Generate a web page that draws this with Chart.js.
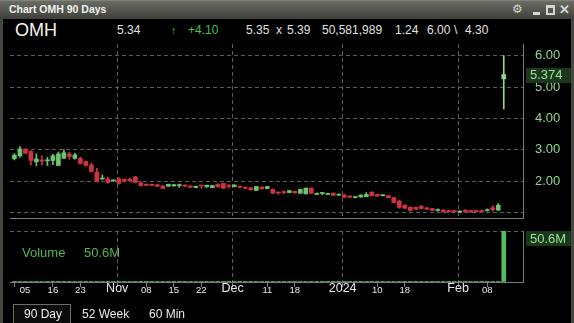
<!DOCTYPE html>
<html>
<head>
<meta charset="utf-8">
<script src="https://cdn.jsdelivr.net/npm/chart.js@4.4.1/dist/chart.umd.min.js"></script>
<style>
  html, body { margin: 0; padding: 0; background: #000; }
  #win { position: relative; width: 574px; height: 323px; background: #45483f; overflow: hidden;
         font-family: "Liberation Sans", Arial, sans-serif; }
  #inner { position: absolute; left: 3px; top: 19px; width: 568px; height: 304px; background: #000; }
  #title { position: absolute; left: 0; top: 0; width: 574px; height: 19px;
           background: linear-gradient(#6a6d64, #3d3f39); border-top: 1px solid #80837a; box-sizing: border-box; }
  #title span.t { position: absolute; left: 9px; top: 2px; font-size: 10.5px; font-weight: bold; color: #f2f2f2; }
  .ico { position: absolute; color: #d6d6d6; }
  .h { position: absolute; font-size: 12px; line-height: 15px; top: 23px; color: #e2e2e2; white-space: nowrap; }
  canvas { position: absolute; left: 0; }
  .tab { position: absolute; top: 307px; font-size: 12px; line-height: 14px; color: #ececec; }
</style>
</head>
<body>
<div id="win">
  <div id="inner"></div>
  <div id="title">
    <span class="t">Chart OMH 90 Days</span>
    <span class="ico" style="left:512px;top:1px;font-size:12px;">⚙</span>
    <span class="ico" style="left:533px;top:11px;width:7px;height:3px;background:#d6d6d6;"></span>
    <span class="ico" style="left:546px;top:4px;width:5px;height:5px;border:2px solid #d6d6d6;border-top-width:3px;"></span>
    <span class="ico" style="left:559px;top:1px;font-size:13px;font-weight:bold;">✕</span>
  </div>

  <div class="h" style="left:15px;top:19px;font-size:18px;line-height:22px;color:#f4f4f4;">OMH</div>
  <div class="h" style="left:117px;">5.34</div>
  <div class="h" style="left:171px;color:#4fbf4f;font-size:11px;">↑</div>
  <div class="h" style="left:188px;color:#4fbf4f;">+4.10</div>
  <div class="h" style="left:246px;">5.35</div>
  <div class="h" style="left:276px;">x</div>
  <div class="h" style="left:287px;">5.39</div>
  <div class="h" style="left:322px;">50,581,989</div>
  <div class="h" style="left:395px;">1.24</div>
  <div class="h" style="left:427px;">6.00</div>
  <div class="h" style="left:454px;">\</div>
  <div class="h" style="left:465px;">4.30</div>

  <canvas id="priceChart" width="574" height="178" style="top:42px;"></canvas>
  <canvas id="volChart" width="574" height="82" style="top:224px;"></canvas>

  <div class="h" style="left:22px;top:245px;font-size:13px;color:#55b455;">Volume</div>
  <div class="h" style="left:84px;top:245px;font-size:13px;color:#55b455;">50.6M</div>

  <div style="position:absolute;left:13px;top:304px;width:56px;height:22px;border:1px solid #6b6b6b;background:#0c0c0c;"></div>
  <div class="tab" style="left:24px;">90 Day</div>
  <div class="tab" style="left:82px;">52 Week</div>
  <div class="tab" style="left:149px;">60 Min</div>
</div>

<script>
// 日线数据：2023-10-05 ~ 2024-02-13，共 90 个交易日
const opens = [
    2.72, 2.81, 3.02, 2.95, 2.62, 2.68, 2.65, 2.66, 2.50, 2.73,
    2.87, 2.73, 2.73, 2.63, 2.52, 2.29, 2.07, 2.07, 2.01,
    2.08, 2.06, 2.07, 2.14, 1.95, 1.90, 1.90, 1.89, 1.85, 1.84,
    1.85, 1.86, 1.88, 1.85, 1.80, 1.86, 1.82, 1.80, 1.90, 1.93, 1.88,
    1.83, 1.84, 1.81, 1.79, 1.71, 1.81, 1.77, 1.74, 1.64, 1.66,
    1.64, 1.68, 1.62, 1.60, 1.78, 1.58, 1.61, 1.58, 1.62, 1.56,
    1.56, 1.53, 1.48, 1.50, 1.51, 1.65, 1.58, 1.54, 1.54, 1.48,
    1.37, 1.24, 1.17, 1.17, 1.21, 1.15, 1.13, 1.07, 1.08, 1.07, 1.05,
    1.02, 1.08, 1.07, 1.07, 1.06, 1.06, 1.16, 1.08, 5.26
];
const highs = [
    2.88, 3.10, 3.04, 2.97, 2.87, 2.81, 2.76, 2.86, 2.93, 3.00,
    2.93, 2.89, 2.77, 2.65, 2.57, 2.41, 2.20, 2.13, 2.04,
    2.12, 2.08, 2.10, 2.16, 1.99, 1.92, 1.91, 1.90, 1.86, 1.91,
    1.90, 1.91, 1.89, 1.86, 1.85, 1.86, 1.88, 1.87, 1.92, 1.94, 1.89,
    1.89, 1.85, 1.82, 1.80, 1.84, 1.83, 1.84, 1.76, 1.65, 1.69,
    1.71, 1.69, 1.75, 1.79, 1.79, 1.63, 1.65, 1.62, 1.63, 1.59,
    1.58, 1.54, 1.52, 1.57, 1.64, 1.67, 1.59, 1.57, 1.55, 1.49,
    1.40, 1.25, 1.19, 1.18, 1.22, 1.17, 1.14, 1.12, 1.10, 1.08, 1.08,
    1.06, 1.10, 1.08, 1.08, 1.08, 1.12, 1.22, 1.29, 6.00
];
const lows = [
    2.68, 2.77, 2.88, 2.52, 2.50, 2.52, 2.50, 2.53, 2.50, 2.73,
    2.70, 2.70, 2.55, 2.48, 2.29, 1.97, 2.06, 1.94, 1.99,
    1.91, 2.00, 2.01, 1.95, 1.84, 1.86, 1.86, 1.83, 1.76, 1.83,
    1.84, 1.80, 1.83, 1.80, 1.79, 1.79, 1.81, 1.79, 1.81, 1.77, 1.79,
    1.82, 1.79, 1.76, 1.71, 1.70, 1.75, 1.76, 1.61, 1.58, 1.60,
    1.63, 1.62, 1.61, 1.59, 1.61, 1.57, 1.57, 1.57, 1.54, 1.54,
    1.48, 1.48, 1.47, 1.49, 1.50, 1.53, 1.52, 1.53, 1.47, 1.31,
    1.14, 1.13, 1.05, 1.10, 1.12, 1.10, 1.06, 1.05, 1.01, 1.02, 1.01,
    1.00, 1.01, 1.01, 1.02, 1.02, 1.05, 1.05, 1.07, 4.30
];
const closes = [
    2.83, 3.03, 2.89, 2.66, 2.71, 2.64, 2.68, 2.81, 2.87, 2.91,
    2.79, 2.84, 2.57, 2.50, 2.31, 1.99, 2.08, 1.96, 2.03,
    1.93, 2.01, 2.02, 1.96, 1.86, 1.87, 1.87, 1.84, 1.77, 1.90,
    1.89, 1.87, 1.84, 1.81, 1.84, 1.85, 1.87, 1.86, 1.82, 1.78, 1.84,
    1.88, 1.81, 1.78, 1.73, 1.83, 1.76, 1.83, 1.62, 1.63, 1.64,
    1.70, 1.63, 1.74, 1.78, 1.62, 1.59, 1.62, 1.59, 1.55, 1.57,
    1.49, 1.49, 1.49, 1.56, 1.58, 1.54, 1.53, 1.56, 1.48, 1.32,
    1.17, 1.14, 1.07, 1.11, 1.13, 1.11, 1.07, 1.09, 1.03, 1.03, 1.03,
    1.03, 1.03, 1.02, 1.03, 1.04, 1.08, 1.09, 1.24, 5.40
];
const volumes = [
    85000, 160000, 120000, 140000, 90000, 60000, 55000, 70000, 110000, 95000,
    60000, 50000, 75000, 65000, 130000, 210000, 90000, 70000, 40000,
    80000, 45000, 40000, 95000, 85000, 40000, 35000, 45000, 70000, 55000,
    40000, 45000, 35000, 40000, 30000, 35000, 40000, 30000, 60000, 75000, 50000,
    45000, 40000, 35000, 55000, 60000, 40000, 45000, 80000, 50000, 45000,
    40000, 35000, 55000, 70000, 60000, 35000, 30000, 30000, 45000, 40000,
    50000, 35000, 30000, 40000, 55000, 60000, 40000, 30000, 45000, 120000,
    180000, 110000, 90000, 60000, 55000, 45000, 60000, 50000, 70000, 45000, 40000,
    35000, 50000, 45000, 40000, 35000, 60000, 90000, 260000, 50581989
];
const lastPrice = 5.374;
const lastVolLabel = "50.6M";

// 坐标轴刻度
const priceTicks = [1, 2, 3, 4, 5, 6];
const tickIdx = [0, 7, 12, 19, 24, 29, 34, 40, 46, 51, 60, 66, 71, 81, 86];
const tickText = ["05", "16", "23", "Nov", "08", "15", "22", "Dec", "11", "18", "2024", "10", "18", "Feb", "08"];
const monthText = ["Nov", "Dec", "2024", "Feb"];

const FONT = "Liberation Sans";
const upColor = "#6cc46c";
const downColor = "#cf3341";
const gridColor = "#5c5c5c";
const axisColor = "#7a7a7a";
const xMin = -0.8, xMax = 92.5;

const idx = opens.map((_, i) => i);
const isMonth = (k) => monthText.includes(tickText[k]);
const tickPos = (k) => isMonth(k) ? tickIdx[k] - 0.3 : tickIdx[k];
const monthPos = tickIdx.map((_, k) => k).filter(isMonth).map(tickPos);

function candleColor(i) {
    if (i === opens.length - 1) return "#8ed88e";
    return closes[i] >= opens[i] ? upColor : downColor;
}

// 右侧价格标签
const tagPlugin = {
    id: "tag",
    afterDraw(chart, args, opts) {
        if (!opts.text) return;
        const { ctx, chartArea } = chart;
        const h = 15;
        const y = Math.max(chart.scales.y.getPixelForValue(opts.value), chartArea.top + h / 2);
        ctx.save();
        ctx.fillStyle = "#1b381b";
        ctx.fillRect(526, Math.round(y - h / 2), 45, h);
        ctx.fillStyle = "#9be09b";
        ctx.font = "13px '" + FONT + "'";
        ctx.textBaseline = "middle";
        ctx.fillText(opts.text, 530, y + 0.5);
        ctx.restore();
    }
};

const noUi = { legend: { display: false }, tooltip: { enabled: false } };

// K线图
new Chart(document.getElementById("priceChart"), {
    type: "bar",
    data: {
        datasets: [{
            data: idx.map(i => ({ x: i, y: [lows[i], highs[i]] })),
            backgroundColor: c => candleColor(c.dataIndex),
            barThickness: 1,
            grouped: false,
            order: 2,
        }, {
            data: idx.map(i => ({ x: i, y: [opens[i], closes[i]] })),
            backgroundColor: c => candleColor(c.dataIndex),
            barThickness: 4,
            minBarLength: 1,
            grouped: false,
            order: 1,
        }],
    },
    options: {
        responsive: false,
        animation: false,
        layout: { padding: { left: 10, top: 2, bottom: 2, right: 0 } },
        plugins: { ...noUi, tag: { value: lastPrice, text: lastPrice.toFixed(3) } },
        scales: {
            x: {
                type: "linear", min: xMin, max: xMax, offset: false,
                afterBuildTicks: s => { s.ticks = monthPos.map(v => ({ value: v })); },
                afterFit: s => { s.height = 0; s.paddingLeft = 0; s.paddingRight = 0; },
                ticks: { display: false },
                grid: { color: gridColor, drawTicks: false, offset: false },
                border: { color: axisColor, dash: [4, 3] },
            },
            y: {
                position: "right", min: 0.83, max: 6.37,
                afterBuildTicks: s => { s.ticks = priceTicks.map(v => ({ value: v })); },
                afterFit: s => { s.width = 51; s.paddingTop = 0; s.paddingBottom = 0; },
                ticks: {
                    color: "#8fd68f", padding: 12, autoSkip: false,
                    font: { family: FONT, size: 13 },
                    callback: v => v === 1 ? "" : v.toFixed(2),
                },
                grid: { color: gridColor, drawTicks: false },
                border: { color: axisColor, dash: [4, 3] },
            },
        },
    },
    plugins: [tagPlugin],
});

// 成交量
const volMax = Math.max(...volumes);
new Chart(document.getElementById("volChart"), {
    type: "bar",
    data: {
        datasets: [{
            data: idx.map(i => ({ x: i, y: volumes[i] })),
            backgroundColor: "#58bd58",
            barThickness: 4,
        }],
    },
    options: {
        responsive: false,
        animation: false,
        layout: { padding: { left: 10, top: 7, bottom: 0, right: 0 } },
        plugins: { ...noUi, tag: { value: volMax, text: lastVolLabel } },
        scales: {
            x: {
                type: "linear", min: xMin, max: xMax, offset: false,
                afterBuildTicks: s => { s.ticks = tickIdx.map((_, k) => ({ value: tickPos(k) })); },
                afterFit: s => { s.height = 24; s.paddingLeft = 0; s.paddingRight = 0; },
                ticks: {
                    autoSkip: false, maxRotation: 0, minRotation: 0,
                    color: "#e8e8e8", padding: 2, crossAlign: "center",
                    font: c => ({ family: FONT, size: isMonth(c.index) ? 12.5 : 9.5 }),
                    // 第一个标签在左边缘，向右让开
                    callback: (v, k) => k === 0 ? "\u2007\u2007\u2007\u2007" + tickText[k] : tickText[k],
                },
                grid: {
                    color: c => isMonth(c.index) ? gridColor : "rgba(0,0,0,0)",
                    tickColor: "#808080", tickLength: 5, offset: false,
                },
                border: { color: axisColor, dash: [4, 3] },
            },
            y: {
                position: "right", min: 0, max: volMax,
                afterBuildTicks: s => { s.ticks = [{ value: 0 }, { value: volMax }]; },
                afterFit: s => { s.width = 51; s.paddingTop = 0; s.paddingBottom = 0; },
                ticks: { display: false },
                grid: { color: c => (c.tick && c.tick.value > 0) ? gridColor : "rgba(0,0,0,0)", drawTicks: false },
                border: { color: axisColor, dash: [4, 3] },
            },
        },
    },
    plugins: [tagPlugin],
});
</script>
</body>
</html>
